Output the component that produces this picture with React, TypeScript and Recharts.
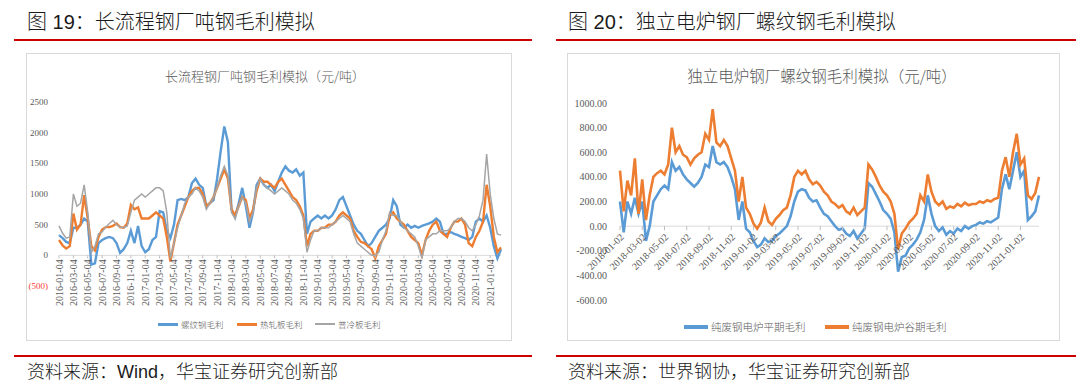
import React from "react";
import { LineChart, Line, XAxis, YAxis, ReferenceLine } from "recharts";

const BLUE = "#5B9BD5";
const ORANGE = "#ED7D31";
const GRAY = "#A5A5A5";
const TEXT = "#595959";
const RED = "#CC0000";
const SERIF = '"Liberation Serif", "Times New Roman", serif';
const CJK = '"Noto Sans CJK SC", "Noto Sans", sans-serif';
const HEAD = '"Liberation Sans", Arial, "Noto Sans CJK SC", sans-serif';

// ---- 图19 长流程钢厂吨钢毛利 (semi-monthly, 2016-01 .. 2021-02) ----
const LONG_TICKS = [
  "2016-01-04", "2016-03-04", "2016-05-04", "2016-07-04", "2016-09-04", "2016-11-04",
  "2017-01-04", "2017-03-04", "2017-05-04", "2017-07-04", "2017-09-04", "2017-11-04",
  "2018-01-04", "2018-03-04", "2018-05-04", "2018-07-04", "2018-09-04", "2018-11-04",
  "2019-01-04", "2019-03-04", "2019-05-04", "2019-07-04", "2019-09-04", "2019-11-04",
  "2020-01-04", "2020-03-04", "2020-05-04", "2020-07-04", "2020-09-04", "2020-11-04",
  "2021-01-04",
];
const LONG_Y_TICKS = [-500, 0, 500, 1000, 1500, 2000, 2500];

const REBAR = [
  330, 280, 220, 200, 450, 450, 500, 600, 550, -150, -130, 200, 250, 280, 300, 280, 200, 40, 100, 200, 400, 200, 480, 150,
  50, 100, 250, 300, 720, 700, 400, 280, 500, 900, 920, 900, 950, 1180, 1250, 1150, 1100, 800, 850, 900, 1250, 1700, 2100, 1850,
  750, 620, 850, 1100, 800, 450, 700, 1150, 1250, 1150, 1100, 1150, 1050, 1200, 1350, 1450, 1380, 1350, 1400, 1300, 1350, 350, 550, 600,
  650, 600, 650, 600, 650, 750, 900, 950, 800, 650, 500, 400, 350, 250, 150, 200, 300, 400, 450, 500, 600, 900, 800, 500,
  450, 500, 450, 480, 450, 480, 500, 520, 550, 600, 550, 350, 350, 380, 350, 330, 300, 280, 250, 300, 550, 600, 550, 650,
  450, 150, -50, 100,
];
const HRC = [
  250, 160, 110, 150, 680, 420, 500, 980, 600, 150, 80, 300, 420, 460, 460, 480, 520, 460, 450, 520, 820, 750, 780, 600,
  600, 600, 650, 700, 650, 600, 300, -100, 200, 500, 650, 800, 950, 1050, 1100, 1100, 1000, 800, 850, 950, 1100, 1250, 1400, 1250,
  750, 650, 800, 950, 900, 600, 750, 1050, 1250, 1200, 1200, 1150, 1100, 1200, 1250, 1150, 1050, 950, 900, 800, 650, 150, 350, 400,
  400, 450, 450, 500, 500, 550, 650, 700, 650, 600, 400, 300, 220, 200, 150, 100, -50, 150, 250, 350, 650, 700, 600, 550,
  500, 400, 300, 250, 200, 0, 250, 400, 500, 550, 400, 350, 300, 450, 550, 550, 600, 500, 200, 150, 300, 400, 550, 1150,
  800, 300, 50, 130,
];
const CRC = [
  480, 360, 280, 300, 1000, 800, 850, 1150, 700, 50, 150, 350, 380, 460, 520, 570, 500, 460, 450, 480, 700, 900, 950, 1000,
  950, 1000, 1050, 1100, 1100, 1050, 700, -50, 200, 450, 650, 850, 950, 1000, 1100, 1050, 950, 750, 850, 950, 1100, 1300, 1450, 1300,
  700, 600, 800, 950, 850, 550, 700, 1100, 1250, 1150, 1100, 1050, 1000, 1050, 1100, 1050, 1000, 900, 850, 750, 600, 50, 250, 400,
  400, 450, 450, 450, 500, 550, 600, 650, 600, 550, 350, 200, 150, 100, 50, 0, 0, 50, 250, 400, 700, 650, 650, 550,
  450, 400, 350, 300, 150, -50, 250, 300, 350, 350, 400, 400, 400, 450, 550, 600, 600, 550, 450, 400, 500, 650, 900, 1650,
  1000, 600, 350, 330,
];

// ---- 图20 独立电炉钢厂螺纹钢毛利 (3 per month, 2018-01 .. 2021-02) ----
const EAF_TICKS = [
  "2018-01-02", "2018-03-02", "2018-05-02", "2018-07-02", "2018-09-02", "2018-11-02",
  "2019-01-02", "2019-03-02", "2019-05-02", "2019-07-02", "2019-09-02", "2019-11-02",
  "2020-01-02", "2020-03-02", "2020-05-02", "2020-07-02", "2020-09-02", "2020-11-02",
  "2021-01-02",
];
const EAF_Y_TICKS = [-600, -400, -200, 0, 200, 400, 600, 800, 1000];

const EAF_FLAT = [
  200, -50, 200, 100, 230, 100, 200, -120, 0, 200, 250, 300, 330, 300, 520, 450, 480, 420, 380, 350, 320, 350, 400, 500, 480, 650, 520, 500, 520, 480, 400, 300, 50, 200, -20, -50,
  -120, -170, -150, -100, -130, -120, -80, -60, -30, 0, 80, 200, 280, 300, 290, 230, 200, 210, 150, 100, 80, 40, 0, -30, -20, -60, -80, -40, -100, -60, -20, 350, 320, 260, 200, 130,
  100, 60, -50, -370, -250, -240, -180, -150, -110, -50, 50, 250, 100, 0, -40, -10, -70, -40, -60, -20, -40, 0, -20, 0, 10, 30, 20, 40, 30, 50, 70, 300, 420, 300, 450, 600,
  400, 450, 50, 80, 120, 250,
];
const EAF_VALLEY = [
  450, 120, 370, 250, 550, 100, 380, 50, 250, 400, 430, 450, 420, 500, 800, 600, 650, 580, 560, 500, 550, 580, 600, 750, 700, 950, 680, 650, 700, 650, 550, 450, 200, 400, 150, 100,
  20, -20, 30, 150, 40, 10, 60, 90, 130, 150, 250, 400, 450, 420, 450, 380, 340, 360, 330, 280, 250, 200, 180, 150, 170, 120, 100, 150, 90, 120, 150, 500, 460, 400, 330, 280,
  250, 200, 100, -190, -60, -20, 30, 60, 100, 250, 200, 420, 280, 200, 170, 200, 140, 160, 150, 180, 160, 190, 170, 180, 180, 200, 190, 210, 200, 220, 230, 450, 560, 400, 600, 750,
  500, 550, 250, 220, 270, 400,
];

function sampleDates(year: number, month: number, count: number, days: string[]) {
  const out: string[] = [];
  let y = year;
  let m = month;
  while (out.length < count) {
    for (const d of days) {
      if (out.length < count) out.push(`${y}-${String(m).padStart(2, "0")}-${d}`);
    }
    m += 1;
    if (m > 12) {
      m = 1;
      y += 1;
    }
  }
  return out;
}

const longDates = sampleDates(2016, 1, REBAR.length, ["04", "19"]);
const longData = longDates.map((date, i) => ({ date, rebar: REBAR[i], hrc: HRC[i], crc: CRC[i] }));

const eafDates = sampleDates(2018, 1, EAF_FLAT.length, ["02", "12", "22"]);
const eafData = eafDates.map((date, i) => ({ date, flat: EAF_FLAT[i], valley: EAF_VALLEY[i] }));

// chart geometry
const L_W = 486, L_H = 288, L_TOP = 49, L_PLOT_H = 184, L_YW = 33;
const L_MIN = -500, L_MAX = 2500;
const L_ZERO_SHIFT = (L_PLOT_H * (0 - L_MIN)) / (L_MAX - L_MIN);

const R_W = 493, R_H = 288, R_TOP = 50, R_PLOT_H = 197, R_YW = 53;
const R_MIN = -600, R_MAX = 1000;
const R_ZERO_SHIFT = (R_PLOT_H * (0 - R_MIN)) / (R_MAX - R_MIN);

const LongXTick = (p: any) => {
  const zy = p.y - L_ZERO_SHIFT;
  return (
    <g>
      <line x1={p.x} y1={zy} x2={p.x} y2={zy + 3} stroke="#BFBFBF" />
      <text
        transform={`translate(${p.x},${zy}) rotate(-90)`}
        x={-4}
        y={0}
        dy="0.35em"
        textAnchor="end"
        fontSize={10}
        fontFamily={SERIF}
        fill={TEXT}
      >
        {p.payload.value}
      </text>
    </g>
  );
};

const LongYTick = (p: any) => {
  const v = p.payload.value;
  return (
    <text x={p.x} y={p.y} dy="0.35em" textAnchor="end" fontSize={9} fontFamily={SERIF} fill={v < 0 ? "#FF3B3B" : TEXT}>
      {v < 0 ? `(${-v})` : v}
    </text>
  );
};

const EafXTick = (p: any) => {
  const zy = p.y - R_ZERO_SHIFT;
  return (
    <g>
      <line x1={p.x} y1={zy} x2={p.x} y2={zy + 4} stroke="#BFBFBF" />
      <text
        transform={`translate(${p.x + 2},${zy + 9}) rotate(-45)`}
        x={0}
        y={0}
        dy="0.35em"
        textAnchor="end"
        fontSize={10}
        fontFamily={SERIF}
        fill={TEXT}
      >
        {p.payload.value}
      </text>
    </g>
  );
};

const EafYTick = (p: any) => (
  <text x={p.x} y={p.y} dy="0.35em" textAnchor="end" fontSize={10} fontFamily={SERIF} fill={TEXT}>
    {p.payload.value.toFixed(2)}
  </text>
);

const abs = (left: number, top: number, extra: React.CSSProperties = {}): React.CSSProperties => ({
  position: "absolute",
  left,
  top,
  ...extra,
});

function LegendItem({ left, top, color, label, lineW, thick, size }: any) {
  return (
    <>
      <div style={abs(left, top - thick / 2, { width: lineW, height: thick, background: color })} />
      <div
        style={abs(left + lineW + 3, top - size * 0.6, {
          fontFamily: CJK,
          fontSize: size,
          fontWeight: 300,
          lineHeight: `${size * 1.2}px`,
          color: TEXT,
          whiteSpace: "nowrap",
        })}
      >
        {label}
      </div>
    </>
  );
}

export default function App() {
  return (
    <div style={{ position: "absolute", left: 0, top: 0, width: 1080, height: 388, background: "#fff", overflow: "hidden" }}>
      {/* headers */}
      <div style={abs(27, 11, { fontFamily: HEAD, fontSize: 20, fontWeight: 300, lineHeight: "22px", color: "#1a1a1a", whiteSpace: "nowrap" })}>
        图 19：长流程钢厂吨钢毛利模拟
      </div>
      <div style={abs(568, 11, { fontFamily: HEAD, fontSize: 20, fontWeight: 300, lineHeight: "22px", color: "#1a1a1a", whiteSpace: "nowrap" })}>
        图 20：独立电炉钢厂螺纹钢毛利模拟
      </div>
      <div style={abs(14, 39, { width: 518, height: 2, background: RED })} />
      <div style={abs(556, 39, { width: 520, height: 2, background: RED })} />

      {/* frames */}
      <div style={abs(26, 53, { width: L_W - 2, height: L_H - 2, border: "1px solid #D9D9D9" })} />
      <div style={abs(567, 53, { width: R_W - 2, height: R_H - 2, border: "1px solid #D9D9D9" })} />

      {/* chart titles */}
      <div style={abs(26, 67, { width: 478, textAlign: "center", fontFamily: CJK, fontSize: 13, fontWeight: 300, lineHeight: "18px", color: TEXT })}>
        长流程钢厂吨钢毛利模拟（元/吨）
      </div>
      <div style={abs(567, 65, { width: 510, textAlign: "center", fontFamily: CJK, fontSize: 15.5, fontWeight: 300, lineHeight: "20px", color: TEXT })}>
        独立电炉钢厂螺纹钢毛利模拟（元/吨）
      </div>

      {/* 图19 chart */}
      <div style={abs(26, 53)}>
        <LineChart width={L_W} height={L_H} data={longData} margin={{ top: L_TOP, right: 11, bottom: L_H - L_TOP - L_PLOT_H - 1, left: 0 }}>
          <XAxis
            dataKey="date"
            ticks={LONG_TICKS}
            interval={0}
            height={1}
            tickSize={0}
            tickMargin={0}
            axisLine={false}
            tickLine={false}
            tick={(p: any) => <LongXTick {...p} />}
          />
          <YAxis
            domain={[L_MIN, L_MAX]}
            ticks={LONG_Y_TICKS}
            interval={0}
            width={L_YW}
            axisLine={false}
            tickLine={false}
            tickSize={6}
            tickMargin={5}
            tick={(p: any) => <LongYTick {...p} />}
          />
          <ReferenceLine y={0} stroke="#D9D9D9" strokeWidth={1} />
          <Line type="linear" dataKey="rebar" stroke={BLUE} strokeWidth={2.4} dot={false} isAnimationActive={false} />
          <Line type="linear" dataKey="hrc" stroke={ORANGE} strokeWidth={2.4} dot={false} isAnimationActive={false} />
          <Line type="linear" dataKey="crc" stroke={GRAY} strokeWidth={1.5} dot={false} isAnimationActive={false} />
        </LineChart>
      </div>

      {/* 图20 chart */}
      <div style={abs(567, 53)}>
        <LineChart width={R_W} height={R_H} data={eafData} margin={{ top: R_TOP, right: 21, bottom: R_H - R_TOP - R_PLOT_H - 1, left: 0 }}>
          <XAxis
            dataKey="date"
            ticks={EAF_TICKS}
            interval={0}
            height={1}
            tickSize={0}
            tickMargin={0}
            axisLine={false}
            tickLine={false}
            tick={(p: any) => <EafXTick {...p} />}
          />
          <YAxis
            domain={[R_MIN, R_MAX]}
            ticks={EAF_Y_TICKS}
            interval={0}
            width={R_YW}
            axisLine={false}
            tickLine={false}
            tickSize={6}
            tickMargin={7}
            tick={(p: any) => <EafYTick {...p} />}
          />
          <ReferenceLine y={0} stroke="#D9D9D9" strokeWidth={1} />
          <Line type="linear" dataKey="flat" stroke={BLUE} strokeWidth={2.6} dot={false} isAnimationActive={false} />
          <Line type="linear" dataKey="valley" stroke={ORANGE} strokeWidth={2.6} dot={false} isAnimationActive={false} />
        </LineChart>
      </div>

      {/* legends */}
      <LegendItem left={158} top={324} color={BLUE} label="螺纹钢毛利" lineW={20} thick={3} size={8.5} />
      <LegendItem left={237} top={324} color={ORANGE} label="热轧板毛利" lineW={20} thick={3} size={8.5} />
      <LegendItem left={315} top={324} color={GRAY} label="普冷板毛利" lineW={20} thick={2} size={8.5} />
      <LegendItem left={684} top={327} color={BLUE} label="纯废钢电炉平期毛利" lineW={24} thick={3.5} size={10.5} />
      <LegendItem left={825} top={327} color={ORANGE} label="纯废钢电炉谷期毛利" lineW={24} thick={3.5} size={10.5} />

      {/* bottom rules and sources */}
      <div style={abs(14, 355, { width: 518, height: 2, background: RED })} />
      <div style={abs(556, 355, { width: 520, height: 2, background: RED })} />
      <div style={abs(27, 362, { fontFamily: HEAD, fontSize: 18, fontWeight: 300, lineHeight: "21px", color: "#1a1a1a", whiteSpace: "nowrap" })}>
        资料来源：Wind，华宝证券研究创新部
      </div>
      <div style={abs(568, 362, { fontFamily: HEAD, fontSize: 18, fontWeight: 300, lineHeight: "21px", color: "#1a1a1a", whiteSpace: "nowrap" })}>
        资料来源：世界钢协，华宝证券研究创新部
      </div>
    </div>
  );
}
